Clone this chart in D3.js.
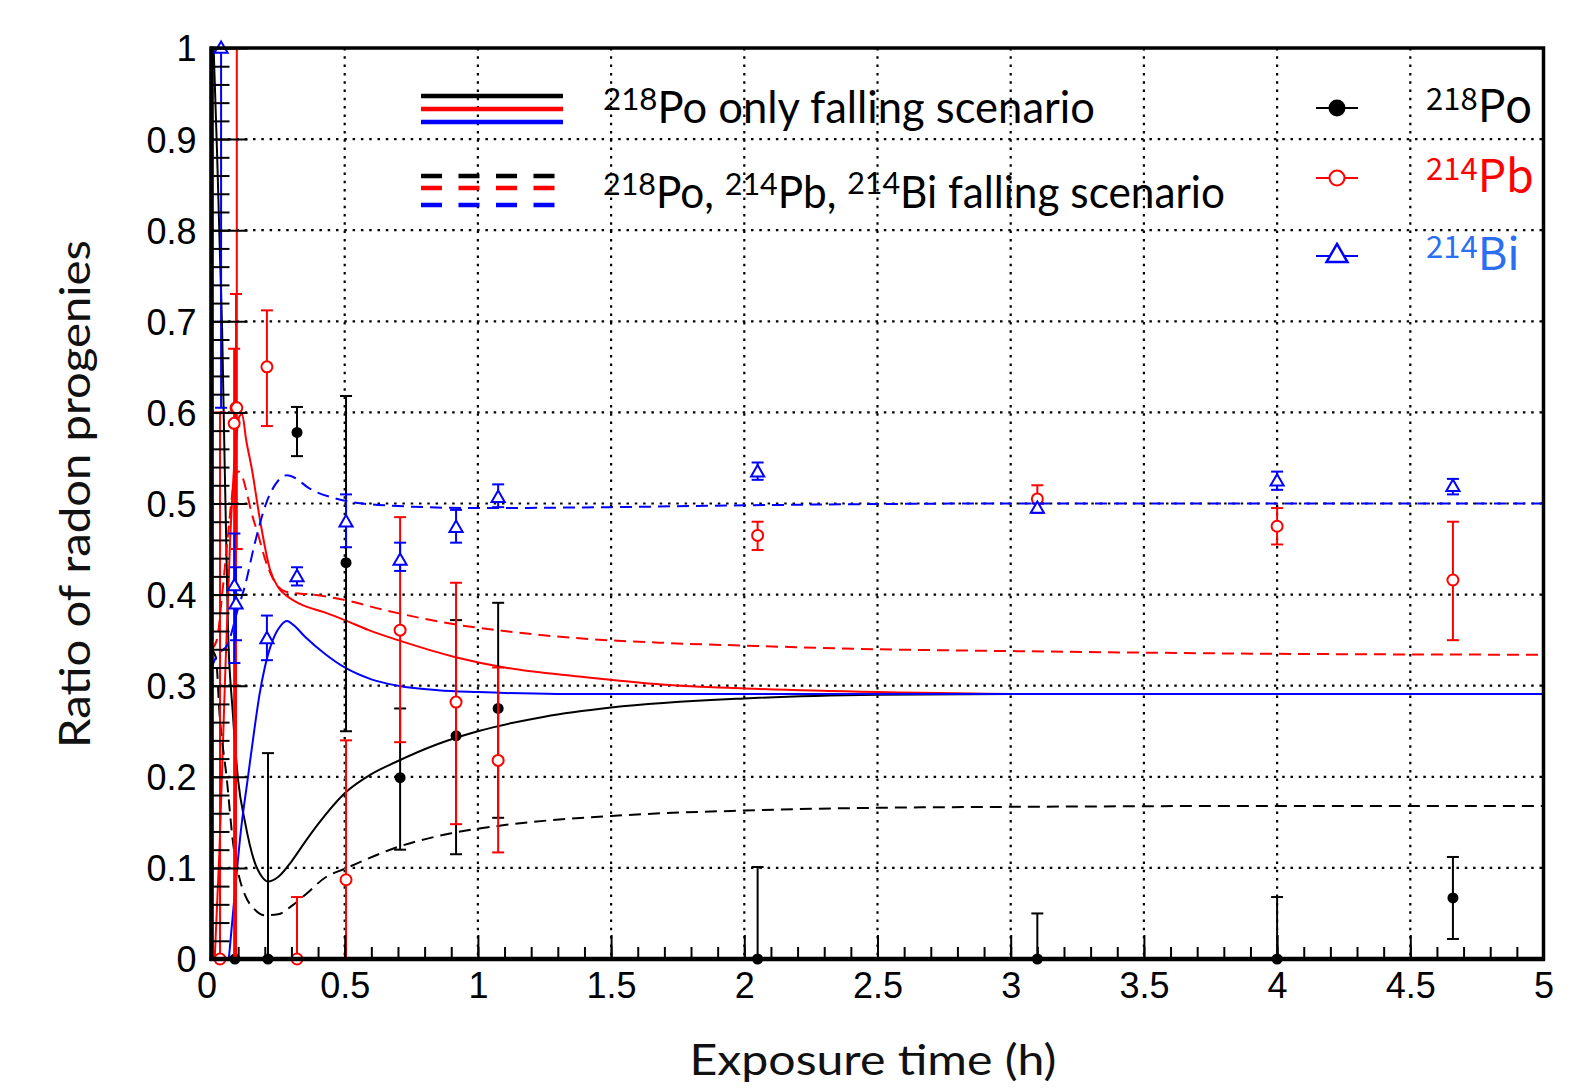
<!DOCTYPE html>
<html>
<head>
<meta charset="utf-8">
<script src="https://cdn.jsdelivr.net/npm/d3@7"></script>
<style>
  body { margin: 0; background: #fff; }
  svg { display: block; }
</style>
</head>
<body>
<svg id="chart" width="1573" height="1088"></svg>
<script>
// tick labels
const xTicks = [0, 0.5, 1, 1.5, 2, 2.5, 3, 3.5, 4, 4.5, 5];
const yTicks = [0, 0.1, 0.2, 0.3, 0.4, 0.5, 0.6, 0.7, 0.8, 0.9, 1];

// measured points: [time (h), ratio, low, high]
const po218 = [
  [0.032, 0, 0, 0], [0.088, 0, 0, 0.3], [0.212, 0, 0, 0.226],
  [0.321, 0.578, 0.552, 0.606], [0.505, 0.435, 0.25, 0.618],
  [0.708, 0.199, 0.12, 0.275], [0.918, 0.245, 0.115, 0.372],
  [1.076, 0.275, 0.155, 0.391], [2.05, 0, 0, 0.101],
  [3.10, 0, 0, 0.05], [4.0, 0, 0, 0.068], [4.66, 0.067, 0.022, 0.112]
];
const pb214 = [
  [0.032, 0, 0, 0.6], [0.085, 0.588, 0.0, 0.67], [0.092, 0.605, 0.0, 0.73],
  [0.095, 0.605, 0.45, 1.05],
  [0.208, 0.65, 0.585, 0.712], [0.321, 0, 0, 0.068],
  [0.505, 0.087, 0, 0.24], [0.708, 0.361, 0.238, 0.485],
  [0.918, 0.282, 0.148, 0.413], [1.076, 0.218, 0.117, 0.32],
  [2.05, 0.465, 0.449, 0.48], [3.10, 0.505, 0.49, 0.52],
  [4.0, 0.475, 0.455, 0.495], [4.66, 0.416, 0.35, 0.48]
];
const bi214 = [
  [0.036, 1.0, 0.605, 1.0], [0.086, 0.41, 0.325, 0.467], [0.092, 0.39, 0.35, 0.43],
  [0.208, 0.352, 0.328, 0.377], [0.321, 0.42, 0.41, 0.43],
  [0.505, 0.48, 0.452, 0.51], [0.708, 0.438, 0.426, 0.457],
  [0.918, 0.474, 0.457, 0.493], [1.076, 0.507, 0.496, 0.521],
  [2.05, 0.535, 0.526, 0.545], [3.10, 0.495, 0.49, 0.5],
  [4.0, 0.525, 0.515, 0.535], [4.66, 0.519, 0.51, 0.527]
];

// model curves, 218Po only falling
const onlyPo = [[0.008,1.0],[0.017,0.92],[0.04,0.69],[0.062,0.36],[0.08,0.27],[0.1,0.196],[0.126,0.15],
  [0.16,0.108],[0.19,0.09],[0.212,0.085],[0.25,0.09],[0.3,0.107],[0.35,0.128],[0.4,0.148],[0.5,0.182],
  [0.6,0.203],[0.69,0.216],[0.85,0.236],[1.0,0.25],[1.25,0.266],[1.5,0.276],[2.0,0.286],[2.5,0.29],
  [3.0,0.291],[5.0,0.291]];
const onlyPb = [[0.012,0],[0.03,0.12],[0.05,0.3],[0.07,0.46],[0.09,0.56],[0.105,0.596],[0.115,0.598],
  [0.13,0.57],[0.152,0.537],[0.182,0.482],[0.22,0.427],[0.25,0.408],[0.276,0.4],[0.33,0.39],[0.43,0.38],
  [0.5,0.372],[0.59,0.361],[0.7,0.35],[0.92,0.331],[1.1,0.32],[1.38,0.31],[1.7,0.301],[2.0,0.297],
  [2.5,0.293],[3.0,0.291],[5.0,0.291]];
const onlyBi = [[0.065,0],[0.09,0.08],[0.11,0.14],[0.137,0.2],[0.16,0.25],[0.18,0.29],[0.2,0.32],
  [0.23,0.35],[0.26,0.366],[0.283,0.371],[0.31,0.366],[0.35,0.354],[0.43,0.334],[0.5,0.32],[0.6,0.307],
  [0.7,0.3],[0.85,0.295],[1.0,0.293],[1.3,0.291],[5.0,0.291]];

// model curves, 218Po, 214Pb, 214Bi falling
const allPo = [[0,0.34],[0.017,0.33],[0.03,0.27],[0.058,0.196],[0.08,0.13],[0.1,0.095],[0.126,0.07],
  [0.16,0.055],[0.2,0.048],[0.25,0.049],[0.3,0.058],[0.35,0.07],[0.43,0.09],[0.5,0.099],[0.7,0.123],
  [0.9,0.138],[1.1,0.147],[1.5,0.157],[2.0,0.163],[2.5,0.166],[3.0,0.167],[4.0,0.168],[5.0,0.168]];
const allPb = [[0,0.34],[0.02,0.35],[0.04,0.4],[0.06,0.46],[0.08,0.515],[0.1,0.535],[0.115,0.53],
  [0.13,0.515],[0.15,0.49],[0.175,0.466],[0.2,0.44],[0.23,0.418],[0.265,0.405],[0.3,0.402],[0.38,0.4],
  [0.5,0.394],[0.65,0.383],[0.92,0.367],[1.1,0.36],[1.38,0.352],[1.7,0.347],[2.0,0.344],[2.5,0.34],
  [3.0,0.338],[4.0,0.335],[5.0,0.334]];
const allBi = [[0,0.32],[0.02,0.333],[0.06,0.345],[0.1,0.385],[0.126,0.41],[0.163,0.457],[0.21,0.504],
  [0.25,0.525],[0.283,0.531],[0.32,0.527],[0.36,0.518],[0.46,0.506],[0.65,0.498],[1.0,0.495],
  [1.5,0.496],[2.0,0.498],[3.0,0.5],[5.0,0.5]];

const RED = '#ff0000', BLUE = '#0000ff', BLACK = '#000000';

const svg = d3.select('#chart');
const pLeft = 211.5, pRight = 1543.5, pTop = 48, pBottom = 959;

const x = d3.scaleLinear().domain([0, 5]).range([pLeft, pRight]);
const y = d3.scaleLinear().domain([0, 1]).range([pBottom, pTop]);

svg.append('defs').append('clipPath').attr('id', 'plot')
   .append('rect')
   .attr('x', pLeft).attr('y', pTop)
   .attr('width', pRight - pLeft).attr('height', pBottom - pTop);

// grid
const grid = svg.append('g');
xTicks.filter(d => d > 0 && d < 5).forEach(d => {
  grid.append('line')
     .attr('x1', x(d)).attr('x2', x(d))
     .attr('y1', pTop).attr('y2', pBottom)
     .attr('stroke', BLACK)
     .attr('stroke-width', 2.2)
     .attr('stroke-dasharray', '2.5,5.8');
});
yTicks.filter(d => d > 0 && d < 1).forEach(d => {
  grid.append('line')
     .attr('x1', pLeft).attr('x2', pRight)
     .attr('y1', y(d)).attr('y2', y(d))
     .attr('stroke', BLACK)
     .attr('stroke-width', 2.2)
     .attr('stroke-dasharray', '2.5,5.8');
});

// curves
const line = d3.line()
  .x(d => x(d[0]))
  .y(d => y(d[1]))
  .curve(d3.curveMonotoneX);

const curves = svg.append('g').attr('clip-path', 'url(#plot)');
[[onlyPo, BLACK], [onlyPb, RED], [onlyBi, BLUE]].forEach(c => {
  curves.append('path')
     .attr('d', line(c[0]))
     .attr('fill', 'none')
     .attr('stroke', c[1])
     .attr('stroke-width', 2);
});
[[allPo, BLACK], [allPb, RED], [allBi, BLUE]].forEach(c => {
  curves.append('path')
     .attr('d', line(c[0]))
     .attr('fill', 'none')
     .attr('stroke', c[1])
     .attr('stroke-width', 2)
     .attr('stroke-dasharray', '12,7');
});

// error bars and markers
function plotPoints(data, color, kind){
  const g = svg.append('g').attr('clip-path', 'url(#plot)');
  data.forEach(d => {
    const cx = x(d[0]);
    g.append('line')
       .attr('x1', cx).attr('x2', cx)
       .attr('y1', y(d[2])).attr('y2', y(d[3]))
       .attr('stroke', color)
       .attr('stroke-width', 2);
    [d[2], d[3]].forEach(v => {
      if(v > 0 && v < 1.01)
      g.append('line')
         .attr('x1', cx - 6).attr('x2', cx + 6)
         .attr('y1', y(v)).attr('y2', y(v))
         .attr('stroke', color)
         .attr('stroke-width', 2);
    });
  });
  const m = svg.append('g');
  data.forEach(d => {
    const cx = x(d[0]), cy = y(d[1]);
    if(kind === 'dot'){
      m.append('circle').attr('cx', cx).attr('cy', cy).attr('r', 5.5)
       .attr('fill', color);
    } else if(kind === 'circle'){
      m.append('circle').attr('cx', cx).attr('cy', cy).attr('r', 5.5)
       .attr('fill', '#fff').attr('stroke', color).attr('stroke-width', 2);
    } else {
      m.append('path')
       .attr('d', d3.symbol(d3.symbolTriangle, 75)())
       .attr('transform', `translate(${cx},${cy + 1})`)
       .attr('fill', '#fff').attr('stroke', color).attr('stroke-width', 2);
    }
  });
}
plotPoints(po218, BLACK, 'dot');
plotPoints(pb214, RED, 'circle');
plotPoints(bi214, BLUE, 'triangle');

// axes
const axisStyle = g => {
  g.select('.domain').remove();
  g.selectAll('line').attr('stroke', BLACK).attr('stroke-width', 2);
};
svg.append('g').attr('transform', `translate(${pLeft},0)`)
   .call(d3.axisRight(y).tickValues(d3.range(0, 1.001, 0.02)).tickSize(18).tickFormat(''))
   .call(axisStyle);
svg.append('g').attr('transform', `translate(${pLeft},0)`)
   .call(d3.axisRight(y).tickValues(yTicks).tickSize(36).tickFormat(''))
   .call(axisStyle);
svg.append('g').attr('transform', `translate(0,${pBottom})`)
   .call(d3.axisTop(x).tickValues(d3.range(0, 5.001, 0.1)).tickSize(12).tickFormat(''))
   .call(axisStyle);
svg.append('g').attr('transform', `translate(0,${pBottom})`)
   .call(d3.axisTop(x).tickValues(xTicks).tickSize(24).tickFormat(''))
   .call(axisStyle);

const yLab = svg.append('g').attr('transform', `translate(${pLeft - 12},0)`)
   .call(d3.axisLeft(y).tickValues(yTicks).tickSize(0).tickFormat(d => String(d)));
yLab.select('.domain').remove();
yLab.selectAll('text')
    .attr('font-family', '"Liberation Sans", Arial, sans-serif')
    .attr('font-size', 36).attr('fill', BLACK).attr('dy', '0.36em');

const xLab = svg.append('g').attr('transform', `translate(0,${pBottom + 10})`)
   .call(d3.axisBottom(x).tickValues(xTicks).tickSize(0).tickFormat(d => String(d)));
xLab.select('.domain').remove();
xLab.selectAll('text')
    .attr('font-family', '"Liberation Sans", Arial, sans-serif')
    .attr('font-size', 36).attr('fill', BLACK).attr('dy', '0.72em');
xLab.selectAll('text').filter(d => d === 0).attr('dx', -5);

// frame
svg.append('rect')
   .attr('x', pLeft).attr('y', pTop)
   .attr('width', pRight - pLeft).attr('height', pBottom - pTop)
   .attr('fill', 'none').attr('stroke', BLACK).attr('stroke-width', 3.5);
svg.append('line').attr('x1', pLeft).attr('x2', pLeft).attr('y1', pTop - 1.5).attr('y2', pBottom + 2)
   .attr('stroke', BLACK).attr('stroke-width', 4.5);
svg.append('line').attr('x1', pLeft - 2).attr('x2', pRight + 1.5).attr('y1', pBottom).attr('y2', pBottom)
   .attr('stroke', BLACK).attr('stroke-width', 4.5);

// axis titles
svg.append('text')
   .attr('x', 873).attr('y', 1075)
   .attr('text-anchor', 'middle')
   .attr('font-family', 'Lato, "Open Sans", sans-serif')
   .attr('font-size', 42).attr('fill', '#111')
   .attr('textLength', 367).attr('lengthAdjust', 'spacingAndGlyphs')
   .text('Exposure time (h)');
svg.append('text')
   .attr('transform', 'translate(90,494) rotate(-90)')
   .attr('text-anchor', 'middle')
   .attr('font-family', 'Lato, "Open Sans", sans-serif')
   .attr('font-size', 42).attr('fill', '#111')
   .attr('textLength', 508).attr('lengthAdjust', 'spacingAndGlyphs')
   .text('Ratio of radon progenies');

// legend, model lines
const legFont = 'Lato, "Open Sans", sans-serif';
[[96, BLACK], [109, RED], [122, BLUE]].forEach(r => {
  svg.append('line').attr('x1', 421).attr('x2', 563).attr('y1', r[0]).attr('y2', r[0])
     .attr('stroke', r[1]).attr('stroke-width', 4.5);
});
[[176, BLACK], [188, RED], [205, BLUE]].forEach(r => {
  svg.append('line').attr('x1', 421).attr('x2', 558).attr('y1', r[0]).attr('y2', r[0])
     .attr('stroke', r[1]).attr('stroke-width', 4.5)
     .attr('stroke-dasharray', '21,16.5');
});

function isoText(sel, parts){
  parts.forEach(p => {
    if(p.sup){
      sel.append('tspan').attr('font-size', '0.72em').attr('dy', '-0.42em').text(p.sup);
      sel.append('tspan').attr('dy', '0.30em').text(p.txt);
    } else {
      sel.append('tspan').text(p.txt);
    }
  });
}
const t1 = svg.append('text').attr('x', 603).attr('y', 123)
   .attr('font-family', legFont).attr('font-size', 44).attr('fill', BLACK)
   .attr('textLength', 492).attr('lengthAdjust', 'spacingAndGlyphs');
isoText(t1, [{sup: '218', txt: 'Po only falling scenario'}]);
const t2 = svg.append('text').attr('x', 603).attr('y', 208)
   .attr('font-family', legFont).attr('font-size', 44).attr('fill', BLACK)
   .attr('textLength', 622).attr('lengthAdjust', 'spacingAndGlyphs');
isoText(t2, [{sup: '218', txt: 'Po, '}, {sup: '214', txt: 'Pb, '}, {sup: '214', txt: 'Bi falling scenario'}]);

// legend, data markers
const legItems = [
  {y: 108, color: BLACK, textColor: BLACK, kind: 'dot', sup: '218', txt: 'Po'},
  {y: 178, color: RED, textColor: RED, kind: 'circle', sup: '214', txt: 'Pb'},
  {y: 256, color: BLUE, textColor: '#2a6ef2', kind: 'triangle', sup: '214', txt: 'Bi'}
];
legItems.forEach(it => {
  svg.append('line').attr('x1', 1316).attr('x2', 1358).attr('y1', it.y).attr('y2', it.y)
     .attr('stroke', it.color).attr('stroke-width', 2);
  if(it.kind === 'dot'){
    svg.append('circle').attr('cx', 1337).attr('cy', it.y).attr('r', 8.5).attr('fill', it.color);
  } else if(it.kind === 'circle'){
    svg.append('circle').attr('cx', 1337).attr('cy', it.y).attr('r', 7.5)
       .attr('fill', '#fff').attr('stroke', it.color).attr('stroke-width', 2);
  } else {
    svg.append('path').attr('d', d3.symbol(d3.symbolTriangle, 190)())
       .attr('transform', `translate(1337,${it.y})`)
       .attr('fill', '#fff').attr('stroke', it.color).attr('stroke-width', 2.5);
  }
  const t = svg.append('text').attr('x', 1426).attr('y', it.y + 14)
     .attr('font-family', '"Noto Sans CJK JP", "Noto Sans", sans-serif')
     .attr('font-size', 45).attr('fill', it.textColor);
  t.append('tspan').attr('font-size', 31).attr('dy', -12).text(it.sup);
  t.append('tspan').attr('dy', 12).text(it.txt);
});
</script>
</body>
</html>
